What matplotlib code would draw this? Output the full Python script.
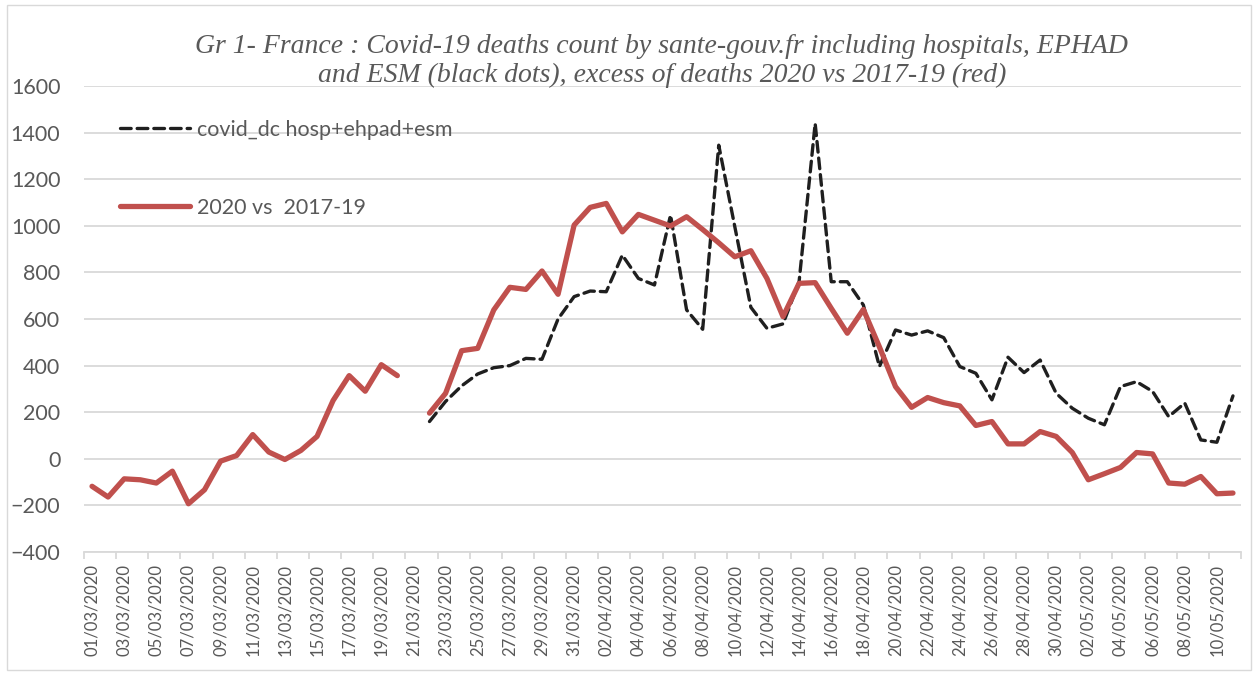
import numpy as np
import pandas as pd
import matplotlib
matplotlib.use("Agg")
import matplotlib.pyplot as plt
from matplotlib.patches import Rectangle

# ---------------- data ----------------
dates = pd.date_range("2020-03-01", "2020-05-11", freq="D")
date_labels = [d.strftime("%d/%m/%Y") for d in dates]

excess_2020_vs_2017_19 = [
    -118, -164, -86, -90, -104, -53, -193, -133, -10, 14,
    104, 29, -3, 36, 96, 250, 357, 290, 404, 357,
    None, 196, 281, 464, 474, 639, 736, 727, 806, 706,
    1003, 1079, 1096, 974, 1049, 1024, 999, 1039, 984, 927,
    867, 893, 774, 610, 753, 756, 646, 539, 641, 480,
    310, 221, 263, 241, 227, 143, 160, 64, 64, 117,
    96, 27, -90, -64, -37, 27, 21, -104, -109, -76,
    -150, -147,
]

covid_dc = [
    None, None, None, None, None, None, None, None, None, None,
    None, None, None, None, None, None, None, None, None, None,
    None, 160, 246, 313, 364, 391, 400, 431, 427, 600,
    696, 720, 717, 874, 774, 746, 1046, 639, 556, 1346,
    996, 650, 560, 579, 760, 1439, 760, 760, 660, 396,
    553, 531, 549, 520, 396, 367, 253, 436, 370, 424,
    281, 217, 174, 146, 310, 331, 289, 181, 239, 81,
    71, 270,
]

series_names = ["covid_dc hosp+ehpad+esm", "2020 vs  2017-19"]
title_text = ("Gr 1- France : Covid-19 deaths count by sante-gouv.fr including hospitals, EPHAD\n"
              "and ESM (black dots), excess of deaths 2020 vs 2017-19 (red)")
y_ticks = [-400, -200, 0, 200, 400, 600, 800, 1000, 1200, 1400, 1600]

# ---------------- figure ----------------
W, H, DPI = 1258, 675, 100
fig = plt.figure(figsize=(W / DPI, H / DPI), dpi=DPI)
fig.patch.set_facecolor("white")

fig.patches.append(Rectangle((7 / W, 5 / H), (W - 14) / W, (H - 10) / H,
                             transform=fig.transFigure, fill=False,
                             edgecolor="#d9d9d9", linewidth=1.0))

left, right, top, bottom = 84, 1241, 86, 552
ax = fig.add_axes([left / W, 1 - bottom / H, (right - left) / W, (bottom - top) / H])

x = np.arange(len(dates))
red = np.array([np.nan if v is None else v for v in excess_2020_vs_2017_19], dtype=float)
blk = np.array([np.nan if v is None else v for v in covid_dc], dtype=float)

grey_txt = "#595959"
tick_font = "Lato"

ax.plot(x, blk, color="#1f1f1f", linewidth=2.4, dashes=(3.2, 1.8),
        dash_capstyle="round", label=series_names[0], zorder=3)
ax.plot(x, red, color="#c0504d", linewidth=3.8, solid_capstyle="round",
        solid_joinstyle="round", label=series_names[1], zorder=4)

ax.set_xlim(-0.5, len(dates) - 0.5)
ax.set_ylim(-400, 1600)
ax.set_yticks(y_ticks)
ax.yaxis.grid(True, color="#d9d9d9", linewidth=1.3)
ax.set_axisbelow(True)

for s in ["top", "right", "left"]:
    ax.spines[s].set_visible(False)
ax.spines["bottom"].set_color("#d9d9d9")
ax.spines["bottom"].set_linewidth(1.3)

# major ticks: category boundaries every 2 days (marks only)
ax.set_xticks(np.arange(-0.5, len(dates), 2))
ax.tick_params(axis="x", which="major", length=5, width=1.3, color="#d9d9d9",
               labelbottom=False)
# minor ticks: labels on every second category
ax.set_xticks(x[::2], minor=True)
ax.set_xticklabels(date_labels[::2], minor=True, rotation=90,
                   fontsize=12, color=grey_txt, family=tick_font)
ax.tick_params(axis="x", which="minor", length=0, pad=9)

ax.tick_params(axis="y", length=0, pad=17, labelsize=15.5, labelcolor=grey_txt)
for lab in ax.get_yticklabels():
    lab.set_family(tick_font)

leg = ax.legend(loc="upper left", bbox_to_anchor=(0.031, 0.928), frameon=False,
                prop={"family": tick_font, "size": 15.5}, labelcolor=grey_txt,
                handlelength=3.25, handletextpad=0.33, labelspacing=2.7,
                borderpad=0, borderaxespad=0)

fig.text(0.526, 1 - 61 / H, title_text, ha="center", va="center",
         fontsize=20, style="italic", family="Liberation Serif",
         color=grey_txt, linespacing=1.15)

fig.savefig("out.png", dpi=DPI)
